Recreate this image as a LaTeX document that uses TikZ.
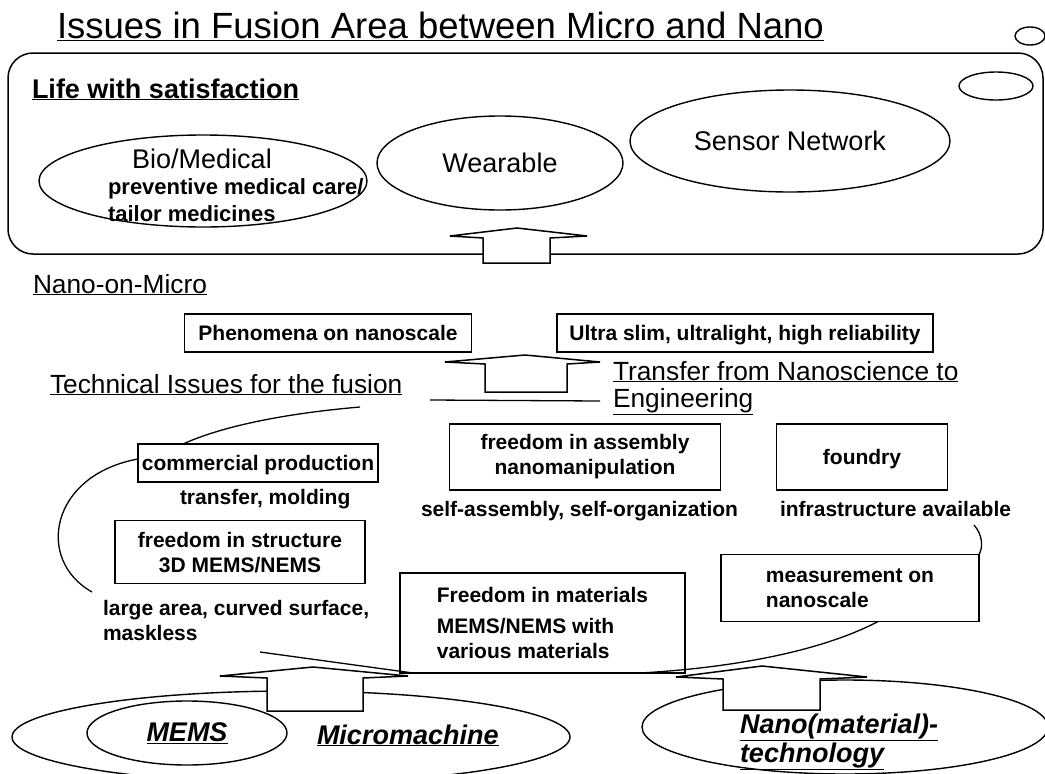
\documentclass[tikz,border=0pt]{standalone}
\usepackage{fontspec}
\setmainfont{Liberation Sans}
\usetikzlibrary{positioning,shapes.geometric}

\newcommand\titlesize{\fontsize{36.5}{40}\selectfont}
\newcommand\headsize{\fontsize{26.3}{30}\selectfont}
\newcommand\labelsize{\fontsize{27}{30}\selectfont}
\newcommand\notesize{\fontsize{21}{25}\selectfont\bfseries}

\begin{document}
\begin{tikzpicture}
  [
    x=1pt, y=-1pt,
    every node/.style={inner sep=0pt, outer sep=0pt},
    heading/.style={anchor=base west, font=\headsize},
    note/.style={anchor=base west, font=\notesize},
    issuebox/.style={rectangle, draw, line width=1.5pt, font=\notesize, align=center, fill=white},
    oneline/.style={text height=18pt, text depth=4pt},
    blob/.style={ellipse, draw, line width=1.4pt},
    tech/.style={font=\labelsize\bfseries\itshape},
    wire/.style={line width=1.3pt},
    bigarrow/.style={draw, fill=white, line width=1.5pt, line join=miter},
  ]
  \path[use as bounding box] (0,0) rectangle (1045,774);
  \clip (0,0) rectangle (1045,774);

  %Titel
  \node[anchor=base west, font=\titlesize] (title) at (57,38) {\underline{Issues in Fusion Area between Micro and Nano}};
  \node[blob, minimum width=30pt, minimum height=18pt] (topdot) at (1030,36) {};

  %Life with satisfaction
  \node[draw, rounded corners=25pt, line width=1.5pt, minimum width=1035pt, minimum height=201pt] (lifeframe) at (525.5,153.5) {};
  \node[anchor=base west, font=\labelsize\bfseries] (lifetitle) at (32,98) {\underline{Life with satisfaction}};
  \node[blob, minimum width=74pt, minimum height=28pt] (framedot) at (996,86) {};
  \node[blob, minimum width=328pt, minimum height=92pt] (bio) at (203,181) {};
  \node[anchor=base, font=\labelsize] (bioname) at (202,168) {Bio/Medical};
  \node[note, font=\fontsize{22}{25}\selectfont\bfseries] (bionote) at (108,194) {preventive medical care/};
  \node[note, font=\fontsize{22}{25}\selectfont\bfseries] (bionotetwo) at (108,221) {tailor medicines};
  \node[blob, minimum width=246pt, minimum height=94pt, font=\labelsize] (wear) at (500,163) {Wearable};
  \node[blob, minimum width=320pt, minimum height=102pt, font=\labelsize] (sensor) at (790,141) {Sensor Network};
  \draw[bigarrow] (450,236) -- (517,228) -- (587,236) -- (550,238) -- (550,263) -- (483,263) -- (483,238) -- cycle;

  %Nano-on-Micro
  \node[heading] (nanomicro) at (33,293) {\underline{Nano-on-Micro}};
  \node[issuebox, oneline, minimum width=287pt, minimum height=38pt] (phen) at (328,333) {Phenomena on nanoscale};
  \node[issuebox, oneline, minimum width=376pt, minimum height=38pt] (ultra) at (745,333) {Ultra slim, ultralight, high reliability};
  \draw[bigarrow] (445,362) -- (525,355) -- (600,362) -- (567,364) -- (567,392) -- (485,392) -- (485,364) -- cycle;
  \draw[wire] (430,400) -- (600,401);
  \node[heading] (techissues) at (50,393) {\underline{Technical Issues for the fusion}};
  \node[heading] (transfer) at (613,380) {\underline{Transfer from Nanoscience to}};
  \node[heading] (engineering) at (613,407) {\underline{Engineering}};

  %Technische Punkte
  \node[issuebox, oneline, minimum width=240pt, minimum height=38pt] (commercial) at (258,463) {commercial production};
  \node[note] (molding) at (180,504) {transfer, molding};
  \node[issuebox, minimum width=271pt, minimum height=66pt] (assembly) at (585,457) {freedom in assembly\\nanomanipulation};
  \node[note] (selforg) at (421,516) {self-assembly, self-organization};
  \node[issuebox, oneline, minimum width=171pt, minimum height=66pt] (foundry) at (862,457) {foundry};
  \node[note] (infra) at (780,516) {infrastructure available};
  \node[issuebox, minimum width=250pt, minimum height=63pt, text depth=0pt] (structure) at (240,552) {freedom in structure\\3D MEMS/NEMS};
  \node[note] (largearea) at (103,615) {large area, curved surface,};
  \node[note] (maskless) at (103,640) {maskless};
  \node[issuebox, minimum width=258pt, minimum height=67pt, align=left] (measure) at (850,588) {measurement on\\nanoscale};

  %Mikro und Nano
  \node[blob, minimum width=558pt, minimum height=92pt] (micro) at (291,737) {};
  \node[blob, minimum width=200pt, minimum height=64pt, tech] (mems) at (187,733) {\underline{MEMS}};
  \node[anchor=base west, tech] (micromachine) at (317,744) {\underline{Micromachine}};
  \node[blob, minimum width=406pt, minimum height=94pt] (nano) at (845,727) {};
  \node[anchor=base west, tech] (nanotech) at (740,733) {\underline{Nano(material)-}};
  \node[anchor=base west, tech] (nanotechtwo) at (740,762) {\underline{technology}};
  \draw[bigarrow] (220,676) -- (313,667) -- (408,676) -- (363,678) -- (363,711) -- (267,711) -- (267,678) -- cycle;
  \draw[bigarrow] (676,677) -- (762,666) -- (867,677) -- (820,679) -- (820,710) -- (723,710) -- (723,679) -- cycle;
  \node[issuebox, minimum width=285pt, minimum height=100pt, align=left] (materials) at (542.5,623) {Freedom in materials\\[6pt]MEMS/NEMS with\\various materials};

  %Linien
  \coordinate (techend) at (360,407);
  \coordinate (leftend) at (92,592);
  \coordinate (infraend) at (974,525);
  \coordinate (maskend) at (260,652);
  \draw[wire] (techend) .. controls (290,413) and (225,425) .. ([xshift=45pt]commercial.north west);
  \draw[wire] ([yshift=4pt]commercial.west) .. controls (50,475) and (35,560) .. (leftend);
  \draw[wire] (infraend) .. controls (983,535) and (983,548) .. (measure.north east);
  \draw[wire] ([xshift=28pt]measure.south) .. controls (820,652) and (730,668) .. ([xshift=-45pt]materials.south east);
  \draw[wire] (maskend) -- ([xshift=13pt]materials.south west);
\end{tikzpicture}
\end{document}
